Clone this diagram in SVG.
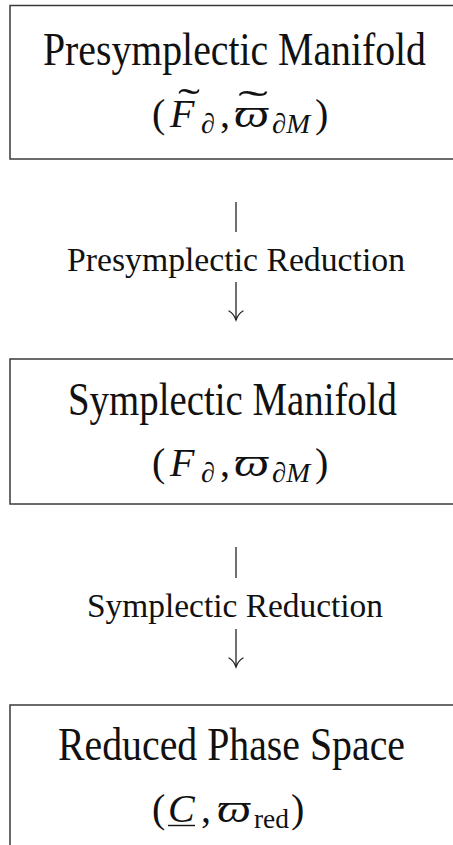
<svg xmlns="http://www.w3.org/2000/svg" width="453" height="845" viewBox="0 0 453 845">
  <style>
    .box { fill: #ffffff; stroke: #3a3a3a; stroke-width: 1.5; }
    .title { font-family: "Liberation Serif", "DejaVu Serif", serif; font-size: 47px; fill: #111; }
    .label { font-family: "Liberation Serif", "DejaVu Serif", serif; font-size: 33px; fill: #111; }
    .m { font-family: "Liberation Serif", "DejaVu Serif", serif; font-size: 40px; fill: #111; }
    .it { font-style: italic; }
    .sub { font-size: 28px; }
    .bar { stroke: #222; stroke-width: 1.3; fill: none; }
    .head { stroke: #222; stroke-width: 1.3; fill: none; stroke-linecap: round; }
  </style>
  <rect width="453" height="845" fill="#ffffff"/>

  <!-- Node: presymplectic manifold -->
  <g id="presymplectic-manifold">
    <rect class="box" x="10" y="5.5" width="460" height="153.5"/>
    <text class="title" x="43" y="65" textLength="383" lengthAdjust="spacingAndGlyphs">Presymplectic Manifold</text>
    <text class="m" x="152" y="127">(</text>
    <text class="m it" x="170" y="127">F</text>
    <text class="m" x="178" y="116" textLength="22" lengthAdjust="spacingAndGlyphs">˜</text>
    <text class="m it sub" x="201" y="133">∂</text>
    <text class="m" x="220" y="127">,</text>
    <text class="m it" x="234" y="127" textLength="35" lengthAdjust="spacingAndGlyphs">ϖ</text>
    <text class="m" x="238" y="118" textLength="30" lengthAdjust="spacingAndGlyphs">˜</text>
    <text class="m it sub" x="272" y="133" textLength="38" lengthAdjust="spacingAndGlyphs">∂M</text>
    <text class="m" x="315" y="127">)</text>
  </g>

  <!-- Node: symplectic manifold -->
  <g id="symplectic-manifold">
    <rect class="box" x="10" y="359" width="460" height="145"/>
    <text class="title" x="68" y="415" textLength="329" lengthAdjust="spacingAndGlyphs">Symplectic Manifold</text>
    <text class="m" x="152" y="476">(</text>
    <text class="m it" x="170" y="476">F</text>
    <text class="m it sub" x="201" y="482">∂</text>
    <text class="m" x="220" y="476">,</text>
    <text class="m it" x="234" y="476" textLength="35" lengthAdjust="spacingAndGlyphs">ϖ</text>
    <text class="m it sub" x="272" y="482" textLength="38" lengthAdjust="spacingAndGlyphs">∂M</text>
    <text class="m" x="315" y="476">)</text>
  </g>

  <!-- Node: reduced phase space -->
  <g id="reduced-phase-space">
    <rect class="box" x="10" y="705" width="460" height="160"/>
    <text class="title" x="58" y="760" textLength="347" lengthAdjust="spacingAndGlyphs">Reduced Phase Space</text>
    <text class="m" x="152" y="822">(</text>
    <text class="m it" x="168" y="822">C</text>
    <line x1="168" y1="825.5" x2="195" y2="825.5" stroke="#111" stroke-width="1.4"/>
    <text class="m" x="201" y="822">,</text>
    <text class="m it" x="217" y="822" textLength="34" lengthAdjust="spacingAndGlyphs">ϖ</text>
    <text class="m sub" x="254" y="828" textLength="35" lengthAdjust="spacingAndGlyphs">red</text>
    <text class="m" x="291" y="822">)</text>
  </g>

  <!-- Connectors: bar, label, arrow shaft and head -->
  <g id="connectors">
    <g id="presymplectic-reduction">
      <line class="bar" x1="236" y1="202" x2="236" y2="232"/>
      <text class="label" x="67" y="271" textLength="338" lengthAdjust="spacingAndGlyphs">Presymplectic Reduction</text>
      <line class="bar" x1="236" y1="282" x2="236" y2="320"/>
      <path class="head" d="M229 311 Q234 314 236 320 Q238 314 243 311"/>
    </g>
    <g id="symplectic-reduction">
      <line class="bar" x1="236" y1="547" x2="236" y2="578"/>
      <text class="label" x="87" y="617" textLength="296" lengthAdjust="spacingAndGlyphs">Symplectic Reduction</text>
      <line class="bar" x1="236" y1="629" x2="236" y2="667"/>
      <path class="head" d="M229 658 Q234 661 236 667 Q238 661 243 658"/>
    </g>
  </g>
</svg>
